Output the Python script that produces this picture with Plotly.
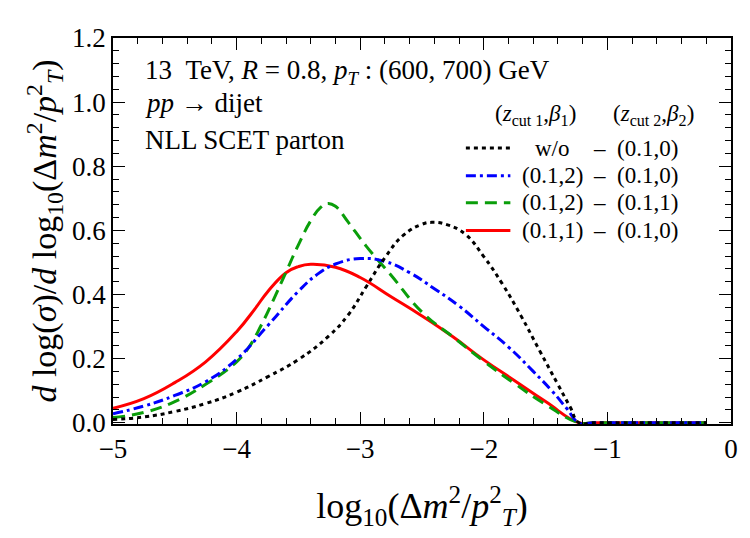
import plotly.graph_objects as go

# ---------------- data ----------------
x_black = [-5.0, -4.75, -4.5, -4.25, -4.0, -3.75, -3.5, -3.25, -3.1, -2.95, -2.8, -2.65, -2.5, -2.42, -2.3, -2.15, -2.0, -1.85, -1.7, -1.55, -1.4, -1.3, -1.23, -1.1, -0.2]
y_black = [0.010, 0.018, 0.035, 0.060, 0.095, 0.143, 0.197, 0.272, 0.335, 0.425, 0.515, 0.585, 0.619, 0.625, 0.618, 0.588, 0.518, 0.433, 0.334, 0.226, 0.119, 0.048, 0.0, 0.0, 0.0]

x_blue = [-5.0, -4.75, -4.5, -4.25, -4.0, -3.75, -3.5, -3.35, -3.2, -3.0, -2.8, -2.6, -2.4, -2.2, -2.0, -1.8, -1.6, -1.45, -1.33, -1.23, -1.1, -0.2]
y_blue = [0.028, 0.052, 0.085, 0.128, 0.198, 0.302, 0.410, 0.462, 0.495, 0.512, 0.503, 0.468, 0.418, 0.364, 0.300, 0.236, 0.160, 0.100, 0.045, 0.0, 0.0, 0.0]

x_green = [-5.0, -4.75, -4.5, -4.25, -4.0, -3.9, -3.8, -3.7, -3.6, -3.5, -3.4, -3.32, -3.26, -3.2, -3.1, -2.95, -2.75, -2.5, -2.25, -2.0, -1.75, -1.5, -1.23, -1.1, -0.2]
y_green = [0.016, 0.032, 0.066, 0.120, 0.190, 0.236, 0.305, 0.385, 0.470, 0.555, 0.630, 0.672, 0.684, 0.675, 0.627, 0.550, 0.460, 0.345, 0.268, 0.192, 0.122, 0.057, 0.0, 0.0, 0.0]

x_red = [-5.0, -4.75, -4.5, -4.25, -4.0, -3.85, -3.75, -3.6, -3.5, -3.4, -3.2, -3.0, -2.75, -2.5, -2.25, -2.0, -1.75, -1.5, -1.23, -1.1, -0.2]
y_red = [0.045, 0.075, 0.125, 0.190, 0.284, 0.356, 0.408, 0.468, 0.487, 0.494, 0.485, 0.453, 0.393, 0.333, 0.268, 0.196, 0.131, 0.066, 0.0, 0.0, 0.0]

labels_left = ["w/o", "(0.1,2)", "(0.1,2)", "(0.1,1)"]
labels_right = ["\u2013\u00a0\u00a0(0.1,0)", "\u2013\u00a0\u00a0(0.1,0)", "\u2013\u00a0\u00a0(0.1,1)", "\u2013\u00a0\u00a0(0.1,0)"]

FONT = "Liberation Serif"

# ---------------- styles ----------------
styles = {
    "black": dict(color="#000000", width=3, dash="4px,4px"),
    "blue": dict(color="#0000ff", width=3, dash="10px,4px,3px,4px"),
    "green": dict(color="#0a9e0a", width=3, dash="12px,7px"),
    "red": dict(color="#ff0000", width=3, dash="solid"),
}

fig = go.Figure()
series = [("red", x_red, y_red), ("green", x_green, y_green),
          ("blue", x_blue, y_blue), ("black", x_black, y_black)]
for name, xs, ys in series:
    fig.add_trace(go.Scatter(x=xs, y=ys, mode="lines", showlegend=False,
                             line=dict(shape="spline", smoothing=1.3, **styles[name])))

# ---------------- manual legend ----------------
legend_order = ["black", "blue", "green", "red"]
row_y = [0.715, 0.643, 0.573, 0.501]
for i, name in enumerate(legend_order):
    st = styles[name]
    fig.add_shape(type="line", xref="paper", yref="paper",
                  x0=0.571, x1=0.643, y0=row_y[i], y1=row_y[i],
                  line=dict(color=st["color"], width=st["width"], dash=st["dash"]))
    fig.add_annotation(xref="paper", yref="paper", x=0.7104, y=row_y[i],
                       text=labels_left[i], showarrow=False, xanchor="center",
                       yanchor="middle", font=dict(family=FONT, size=23, color="black"))
    fig.add_annotation(xref="paper", yref="paper", x=0.774, y=row_y[i],
                       text=labels_right[i], showarrow=False, xanchor="left",
                       yanchor="middle", font=dict(family=FONT, size=23, color="black"))

fig.add_annotation(xref="paper", yref="paper", x=0.683, y=0.80,
                   text="(<i>z</i><sub>cut\u00a01</sub>,<i>β</i><sub>1</sub>)",
                   showarrow=False, xanchor="center", yanchor="middle",
                   font=dict(family=FONT, size=23, color="black"))
fig.add_annotation(xref="paper", yref="paper", x=0.874, y=0.80,
                   text="(<i>z</i><sub>cut\u00a02</sub>,<i>β</i><sub>2</sub>)",
                   showarrow=False, xanchor="center", yanchor="middle",
                   font=dict(family=FONT, size=23, color="black"))

# ---------------- text labels ----------------
info = [
    ("13\u00a0\u00a0TeV,\u00a0<i>R</i>\u00a0=\u00a00.8,\u00a0<i>p</i><sub><i>T</i></sub>\u00a0:\u00a0(600,\u00a0700)\u00a0GeV", 0.912),
    ("<i>pp</i>\u00a0\u2192\u00a0dijet", 0.832),
    ("NLL SCET parton", 0.736),
]
for txt, yy in info:
    fig.add_annotation(xref="paper", yref="paper", x=0.048, y=yy, text=txt,
                       showarrow=False, xanchor="left", yanchor="middle",
                       font=dict(family=FONT, size=27, color="black"))

axis_common = dict(
    showline=True, linecolor="black", linewidth=1.5, mirror="ticks",
    ticks="inside", ticklen=12, tickwidth=1.3, tickcolor="black",
    showgrid=False, zeroline=False,
    tickfont=dict(family=FONT, size=27, color="black"),
)

fig.update_xaxes(range=[-5, 0], dtick=1, tick0=0,
                 minor=dict(ticks="inside", ticklen=6, dtick=0.2, tickcolor="black", tickwidth=1.1),
                 title=dict(text="log<sub>10</sub>(Δ<i>m</i><sup>2</sup>/<i>p</i><sup>2</sup><sub><i>T</i></sub>)",
                            font=dict(family=FONT, size=36, color="black"), standoff=30),
                 **axis_common)
fig.update_yaxes(range=[-0.004, 1.2], dtick=0.2, tick0=0, tickformat=".1f",
                 minor=dict(ticks="inside", ticklen=6, dtick=0.04, tick0=0, tickcolor="black", tickwidth=1.1),
                 title=dict(text="<i>d</i> log(<i>σ</i>)/<i>d</i> log<sub>10</sub>(Δ<i>m</i><sup>2</sup>/<i>p</i><sup>2</sup><sub><i>T</i></sub>)",
                            font=dict(family=FONT, size=34, color="black"), standoff=5),
                 **axis_common)

fig.update_layout(
    width=750, height=538,
    margin=dict(l=113, r=13, t=38, b=114),
    paper_bgcolor="white", plot_bgcolor="white",
    font=dict(family=FONT, color="black"),
    showlegend=False,
)

fig.write_html("out.html")
